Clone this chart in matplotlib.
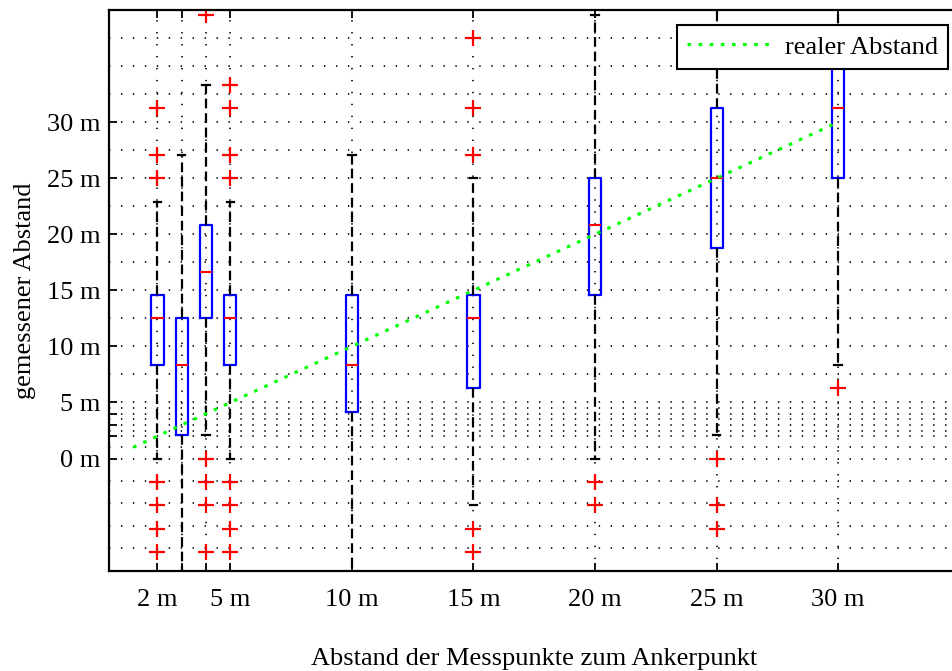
import matplotlib
matplotlib.use("Agg")
import matplotlib.pyplot as plt
from matplotlib.ticker import FixedLocator

plt.rcParams["font.family"] = ["Liberation Serif", "DejaVu Serif"]
plt.rcParams["font.size"] = 19
plt.rcParams["lines.scale_dashes"] = False

# Measurement positions (true distance to the anchor, m)
positions = [2, 3, 4, 5, 10, 15, 20, 25, 30]
x_labels = ["2 m", "", "", "5 m", "10 m", "15 m", "20 m", "25 m", "30 m"]

# Box statistics of the measured distance (m)
medians = [12.5, 8.33, 16.67, 12.5, 8.33, 12.5, 20.83, 25.0, 31.25]
q1 = [8.33, 2.08, 12.5, 8.33, 4.17, 6.25, 14.58, 18.75, 25.0]
q3 = [14.58, 12.5, 20.83, 14.58, 14.58, 14.58, 25.0, 31.25, 37.5]
whisker_low = [0.0, -12.5, 2.08, 0.0, -12.5, -4.17, 0.0, 2.08, 8.33]
whisker_high = [22.92, 27.08, 33.33, 22.92, 27.08, 25.0, 39.58, 41.67, 41.67]
outliers = [
    [31.25, 27.08, 25.0, -2.08, -4.17, -6.25, -8.33],
    [],
    [39.58, 0.0, -2.08, -4.17, -8.33],
    [33.33, 31.25, 27.08, 25.0, -2.08, -4.17, -6.25, -8.33],
    [],
    [37.5, 31.25, 27.08, -6.25, -8.33],
    [-2.08, -4.17],
    [0.0, -4.17, -6.25],
    [6.25],
]

# Reference line: real distance
real_x = [1, 2, 3, 4, 5, 10, 15, 20, 25, 30]
real_y = [1, 2, 3, 4, 5, 10, 15, 20, 25, 30]

# y ticks / grid
y_major = [0, 2, 3, 4, 5, 10, 15, 20, 25, 30]
y_major_labels = ["0 m", "", "", "", "5 m", "10 m", "15 m", "20 m", "25 m", "30 m"]
y_minor = [-8, -6, -4, -2, 1, 2.5, 3.5, 4.5, 7.5, 12.5, 17.5, 22.5, 27.5,
           32.5, 35, 37.5]

W, H = 952, 671
fig = plt.figure(figsize=(W / 100, H / 100), dpi=100)
left_px, right_px, top_px, bottom_px = 108.8, 959.7, 10.0, 570.7
ax = fig.add_axes([left_px / W, 1 - bottom_px / H,
                   (right_px - left_px) / W, (bottom_px - top_px) / H])

stats = []
for i in range(len(positions)):
    stats.append(dict(med=medians[i], q1=q1[i], q3=q3[i],
                      whislo=whisker_low[i], whishi=whisker_high[i],
                      fliers=outliers[i]))

dash = (0, (7.0, 3.5))
ax.bxp(stats, positions=positions, widths=0.5, capwidths=0.3,
       manage_ticks=False,
       boxprops=dict(color="#0000ff", linewidth=1.6),
       medianprops=dict(color="#ff0000", linewidth=1.5),
       whiskerprops=dict(color="black", linewidth=1.6, linestyle=dash),
       capprops=dict(color="black", linewidth=1.6),
       flierprops=dict(marker="+", markeredgecolor="#ff0000",
                       markersize=12, markeredgewidth=1.6, linestyle="none"))

ax.plot(real_x, real_y, color="#00ff00", linewidth=2.2,
        linestyle=(0, (2.6, 5.4)), label="realer Abstand", zorder=3)

ax.set_xlim(0, 35)
ax.set_ylim(-10, 40)

ax.set_xticks(positions)
ax.set_xticklabels(x_labels)
ax.yaxis.set_major_locator(FixedLocator(y_major))
ax.set_yticklabels(y_major_labels)
ax.yaxis.set_minor_locator(FixedLocator(y_minor))

ax.tick_params(axis="both", which="major", direction="in", length=6,
               width=1.3, color="black")
ax.tick_params(axis="x", which="major", top=True, pad=13.5)
ax.tick_params(axis="y", which="major", pad=6)
ax.tick_params(axis="y", which="minor", length=0)

grid_style = dict(color="black", linewidth=1.2, linestyle=(0, (1.0, 7.6)))
ax.grid(True, axis="y", which="both", **grid_style)
ax.grid(True, axis="x", which="major", **grid_style)
ax.set_axisbelow(True)

for side in ("left", "top", "bottom"):
    ax.spines[side].set_linewidth(1.6)
ax.spines["right"].set_visible(False)

ax.set_xlabel("Abstand der Messpunkte zum Ankerpunkt", labelpad=26)
ax.set_ylabel("gemessener Abstand", labelpad=8)

leg = ax.legend(loc="upper right", bbox_to_anchor=(948 / W, 1 - 25 / H),
                bbox_transform=fig.transFigure, borderaxespad=0,
                fancybox=False, framealpha=1, edgecolor="black",
                handlelength=3.2, handletextpad=0.5, borderpad=0.38)
leg.get_frame().set_linewidth(1.5)

fig.savefig("out.png", dpi=100)
